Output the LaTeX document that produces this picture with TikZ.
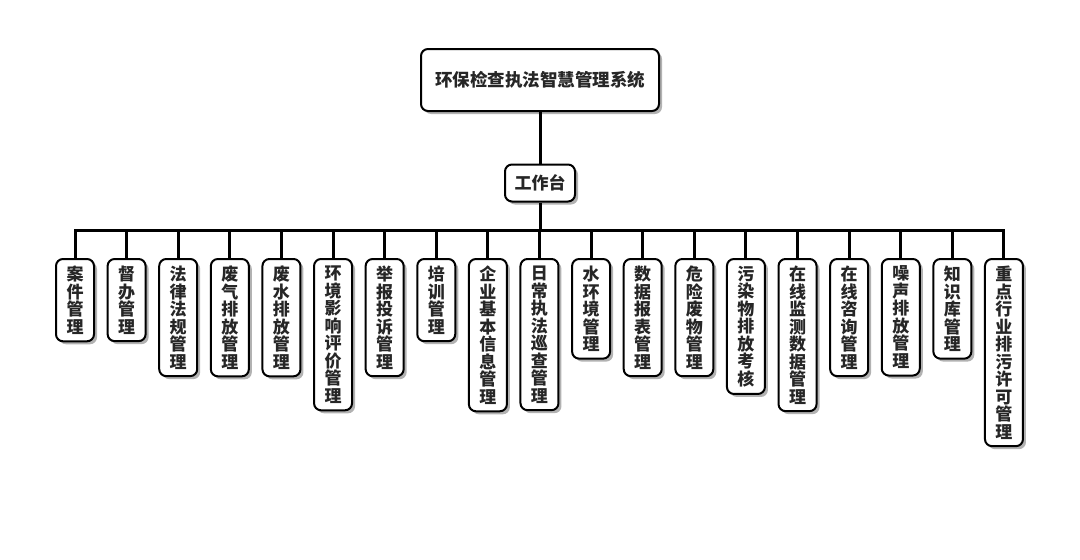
\documentclass[tikz,border=0pt]{standalone}
\usepackage{fontspec}
\setmainfont{Noto Sans CJK SC}
\usetikzlibrary{shadows}

\tikzset{
  box/.style={draw, line width=2pt, rounded corners=7pt, fill=white, text=black!85,
    drop shadow={shadow xshift=3pt, shadow yshift=-3pt, fill=black, opacity=0.3}},
  leaf/.style={box, anchor=north, text width=17pt, align=center, inner xsep=0pt,
    minimum width=38pt, inner ysep=7pt, font=\bfseries\fontsize{17}{17.5}\selectfont},
  link/.style={line width=3pt}
}

\begin{document}
\begin{tikzpicture}[x=1pt,y=-1pt]
\useasboundingbox (0,0) rectangle (1080,560);
% top of the tree
\node[box, minimum width=238pt, minimum height=62pt, font=\bfseries\fontsize{17.5}{20}\selectfont] (root) at (540,80) {环保检查执法智慧管理系统};
\node[box, minimum width=70pt, minimum height=37pt, font=\bfseries\fontsize{17}{20}\selectfont] (desk) at (540,183) {工作台};
\coordinate (bus) at (540,230);
% modules
\foreach \t [count=\i] in {案\\件\\管\\理, 督\\办\\管\\理, 法\\律\\法\\规\\管\\理,
    废\\气\\排\\放\\管\\理, 废\\水\\排\\放\\管\\理, 环\\境\\影\\响\\评\\价\\管\\理,
    举\\报\\投\\诉\\管\\理, 培\\训\\管\\理, 企\\业\\基\\本\\信\\息\\管\\理,
    日\\常\\执\\法\\巡\\查\\管\\理, 水\\环\\境\\管\\理, 数\\据\\报\\表\\管\\理,
    危\\险\\废\\物\\管\\理, 污\\染\\物\\排\\放\\考\\核, 在\\线\\监\\测\\数\\据\\管\\理,
    在\\线\\咨\\询\\管\\理, 噪\\声\\排\\放\\管\\理, 知\\识\\库\\管\\理,
    重\\点\\行\\业\\排\\污\\许\\可\\管\\理} {
    \node[leaf] (m\i) at ({75+(\i-1)*51.61},258) {\t};
}
% connectors
\draw[link] (root) -- (desk);
\draw[link] (desk) -- (bus);
\foreach \i in {1,...,19} {
    \draw[link] (bus) -| (m\i.north);
}
\end{tikzpicture}
\end{document}
